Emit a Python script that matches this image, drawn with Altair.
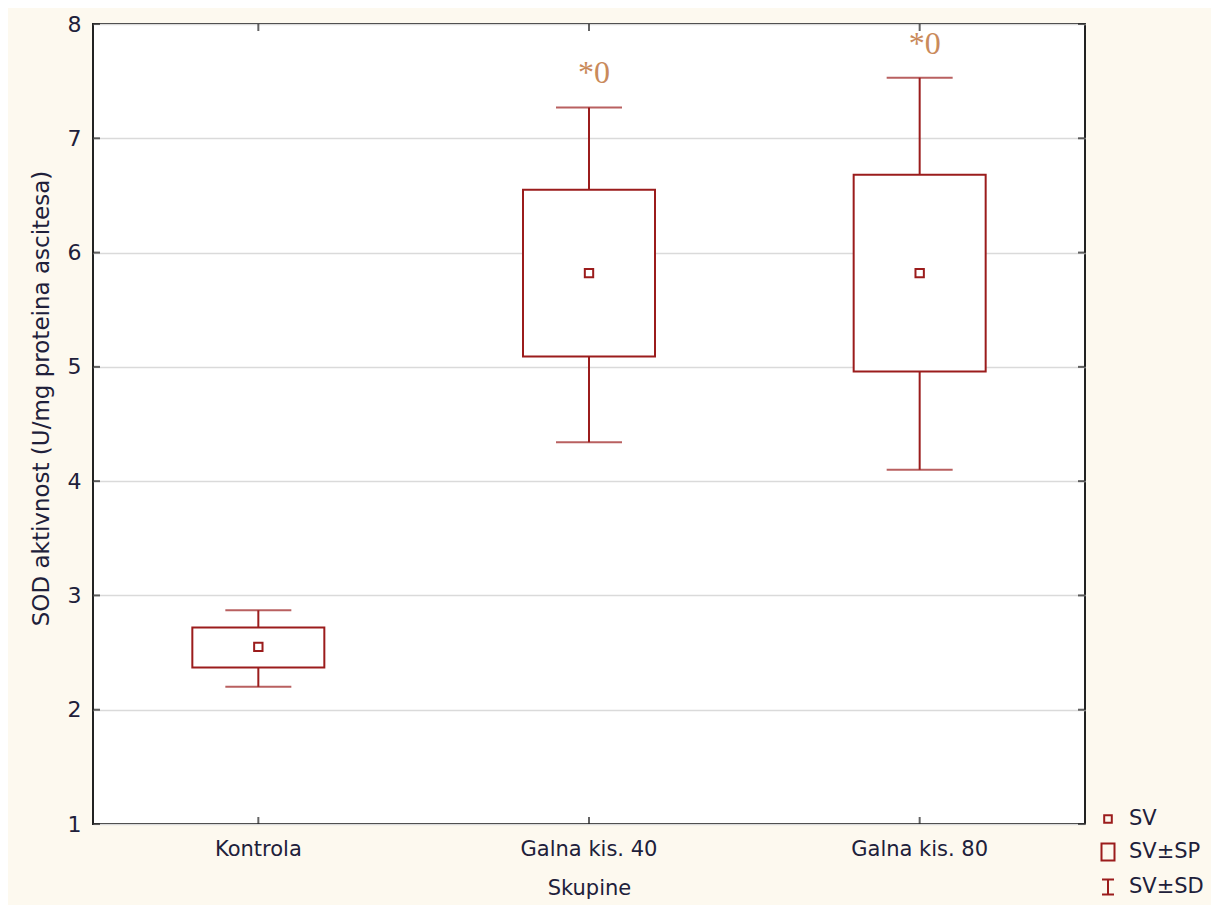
import altair as alt
import pandas as pd

groups = ["Kontrola", "Galna kis. 40", "Galna kis. 80"]
mean = [2.55, 5.82, 5.82]
se_lo = [2.37, 5.09, 4.96]
se_hi = [2.72, 6.55, 6.68]
sd_lo = [2.20, 4.34, 4.10]
sd_hi = [2.87, 7.27, 7.53]
annot = ["", "*0", "*0"]
y_ticks = [1, 2, 3, 4, 5, 6, 7, 8]
legend_items = ["SV", "SV±SP", "SV±SD"]

RED = "#9B1C1C"
TXT = "#20203A"
FONT = "DejaVu Sans"
W, H = 992, 800

df = pd.DataFrame({"group": groups, "mean": mean, "se_lo": se_lo, "se_hi": se_hi,
                   "sd_lo": sd_lo, "sd_hi": sd_hi, "annot": annot})
df_leg = pd.DataFrame({"group": groups, "mean": mean, "item": legend_items})
df_ticks = pd.DataFrame({"v": y_ticks})

x = alt.X("group:N", sort=groups, title="Skupine",
          scale=alt.Scale(paddingInner=0, paddingOuter=0),
          axis=alt.Axis(labelAngle=0, ticks=False, domain=False, labelPadding=14,
                        labelFontSize=21, labelColor=TXT, labelFont=FONT,
                        titleFontSize=21, titleColor=TXT, titleFont=FONT,
                        titleFontWeight="normal", titlePadding=18))
yscale = alt.Scale(domain=[1, 8], nice=False, zero=False)
y_axis = alt.Axis(values=y_ticks, format="d", ticks=False, domain=False, grid=True,
                  gridColor="#DADADA", gridWidth=1.5, labelPadding=12,
                  labelFontSize=22, labelColor=TXT, labelFont=FONT,
                  titleFontSize=23, titleColor=TXT, titleFont=FONT,
                  titleFontWeight="normal", titlePadding=14, titleY=374)

base = alt.Chart(df)

whisk = base.mark_rule(color=RED, strokeWidth=2).encode(
    x=x, y=alt.Y("sd_lo:Q", scale=yscale, axis=y_axis,
                 title="SOD aktivnost (U/mg proteina ascitesa)"),
    y2="sd_hi:Q")
cap_hi = base.mark_tick(color=RED, thickness=2, size=66, orient="horizontal").encode(
    x=x, y=alt.Y("sd_hi:Q", scale=yscale))
cap_lo = base.mark_tick(color=RED, thickness=2, size=66, orient="horizontal").encode(
    x=x, y=alt.Y("sd_lo:Q", scale=yscale))
box = base.mark_bar(fill="white", stroke=RED, strokeWidth=2, size=132).encode(
    x=x, y=alt.Y("se_lo:Q", scale=yscale), y2="se_hi:Q")
mpt = base.mark_point(shape="square", filled=False, color=RED, strokeWidth=2, size=70,
                      opacity=1).encode(x=x, y=alt.Y("mean:Q", scale=yscale))
txt = base.mark_text(font="Liberation Serif", fontSize=32, color="#C98A5B", dy=-34, dx=5,
                     baseline="middle").encode(
    x=x, y=alt.Y("sd_hi:Q", scale=yscale), text="annot:N")

leg = alt.Chart(df_leg).mark_point(filled=False, color=RED, opacity=0, strokeWidth=2).encode(
    x=x, y=alt.Y("mean:Q", scale=yscale),
    shape=alt.Shape("item:N",
                    scale=alt.Scale(domain=legend_items,
                                    range=["M-0.38,-0.38H0.38V0.38H-0.38Z",
                                           "M-0.65,-0.85H0.65V0.85H-0.65Z",
                                           "M-0.6,-0.75H0.6M0,-0.75V0.75M-0.6,0.75H0.6"]),
                    legend=alt.Legend(title=None, orient="none", legendX=1004, legendY=784,
                                      symbolSize=400, symbolOpacity=1,
                                      symbolStrokeColor=RED, symbolStrokeWidth=2,
                                      symbolFillColor="transparent",
                                      labelFontSize=21, labelColor=TXT,
                                      labelFont=FONT, labelOffset=10,
                                      rowPadding=10)))

ytk_l = alt.Chart(df_ticks).mark_tick(color="#222222", thickness=2, size=7,
                                      orient="horizontal").encode(
    y=alt.Y("v:Q", scale=yscale), x=alt.value(3.5))
ytk_r = alt.Chart(df_ticks).mark_tick(color="#222222", thickness=2, size=7,
                                      orient="horizontal").encode(
    y=alt.Y("v:Q", scale=yscale), x=alt.value(W - 3.5))
xtk_t = base.mark_tick(color="#222222", thickness=2, size=7, orient="vertical").encode(
    x=x, y=alt.value(3.5))
xtk_b = base.mark_tick(color="#222222", thickness=2, size=7, orient="vertical").encode(
    x=x, y=alt.value(H - 3.5))

chart = alt.layer(whisk, cap_hi, cap_lo, box, mpt, txt, leg, ytk_l, ytk_r, xtk_t, xtk_b).properties(
    width=W, height=H,
    autosize=alt.AutoSizeParams(type="none"),
    padding={"left": 85, "top": 16, "right": 126, "bottom": 81},
    background="#FDF9EF",
).configure_view(stroke="#222222", strokeWidth=2, fill="white")

chart.save("out.html", embed_options={"renderer": "svg", "actions": False})
